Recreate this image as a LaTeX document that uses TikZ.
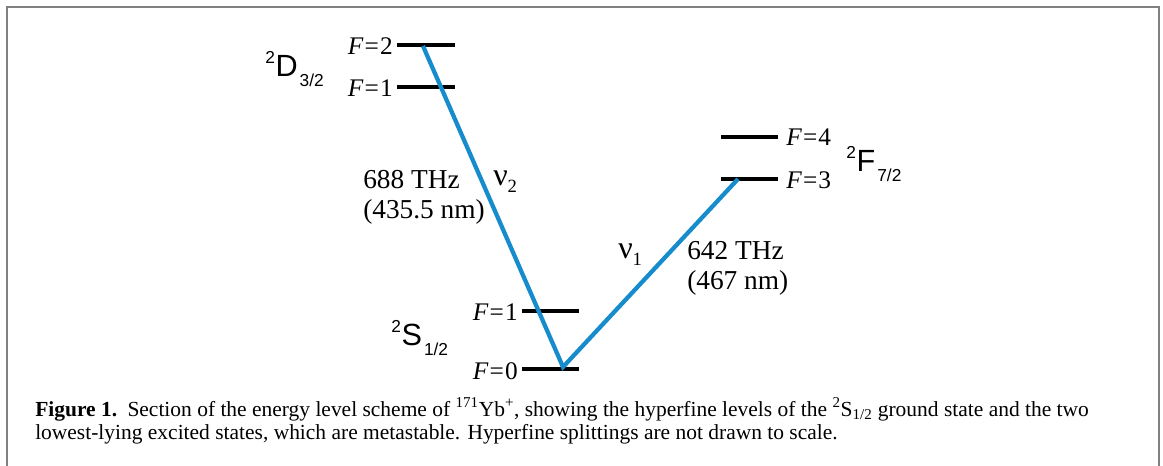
\documentclass[tikz,border=0pt]{standalone}
\usepackage{fontspec}
\setmainfont{Liberation Serif}
\setsansfont{Liberation Sans}
\definecolor{transblue}{RGB}{22,140,205}
\definecolor{framegray}{RGB}{128,128,128}
\newcommand\termsym[3]{\raisebox{0.45em}{\fontsize{13}{13}\selectfont #1}\kern0.5pt#2\kern1.5pt\raisebox{-0.32em}{\fontsize{13}{13}\selectfont #3}}
\newcommand\flev[1]{\textit{F}\kern0.8pt=\kern0.8pt#1}
\begin{document}
\begin{tikzpicture}[x=0.75pt,y=-0.75pt,
  level/.style={line width=3pt, black},
  trans/.style={line width=3.2pt, color=transblue, line join=miter},
  flab/.style={inner sep=0pt, font=\fontsize{19}{21}\selectfont},
  term/.style={inner sep=0pt, anchor=base west, font=\fontsize{23}{25}\sffamily},
  freq/.style={inner sep=0pt, anchor=base west, font=\fontsize{20.5}{23}\selectfont},
  nu/.style={inner sep=0pt, anchor=base west, font=\fontsize{24}{25}\selectfont},
  captext/.style={inner sep=0pt, anchor=base west, font=\fontsize{16.1}{18}\selectfont},
]
\useasboundingbox (0,0) rectangle (1163,466);
% frame
\draw[framegray, line width=1.6pt] (7,466) -- (7,7) -- (1159,7) -- (1159,466);

% level end points
\coordinate (d2l) at (397,45); \coordinate (d2r) at (455,45);
\coordinate (d1l) at (397,87); \coordinate (d1r) at (455,87);
\coordinate (s1l) at (522,311); \coordinate (s1r) at (579,311);
\coordinate (s0l) at (522,369); \coordinate (s0r) at (579,369);
\coordinate (f4l) at (721,137); \coordinate (f4r) at (778,137);
\coordinate (f3l) at (721,179); \coordinate (f3r) at (778,179);

% levels
\draw[level] (d2l) -- (d2r);
\draw[level] (d1l) -- (d1r);
\draw[level] (s1l) -- (s1r);
\draw[level] (s0l) -- (s0r);
\draw[level] (f4l) -- (f4r);
\draw[level] (f3l) -- (f3r);

% transitions
\coordinate (tD) at (423,46);
\coordinate (tS) at (563,367);
\coordinate (tF) at (738,179);
\draw[trans] (tD) -- (tS) -- (tF);

% level labels
\node[flab, anchor=base east] (ld2) at (393,55) {\flev{2}};
\node[flab, anchor=base east] (ld1) at (393,97) {\flev{1}};
\node[flab, anchor=base east] (ls1) at (518,321) {\flev{1}};
\node[flab, anchor=base east] (ls0) at (518,379) {\flev{0}};
\node[flab, anchor=base west] (lf4) at (786,146) {\flev{4}};
\node[flab, anchor=base west] (lf3) at (786,189) {\flev{3}};

% term symbols
\node[term] (termD) at (265,77) {\termsym{2}{D}{3/2}};
\node[term] (termS) at (391,346) {\termsym{2}{S}{1/2}};
\node[term] (termF) at (846,172) {\termsym{2}{F}{7/2}};

% frequencies
\node[freq] (f688) at (363,189) {688 THz};
\node[freq] (w435) at (363,219) {(435.5 nm)};
\node[freq] (f642) at (687,260) {642 THz};
\node[freq] (w467) at (687,290) {(467 nm)};
\node[nu] (nu2) at (493,186) {ν\raisebox{-0.2em}{\fontsize{14}{14}\selectfont 2}};
\node[nu] (nu1) at (618,259) {ν\raisebox{-0.2em}{\fontsize{14}{14}\selectfont 1}};

% caption
\node[captext] (cap1) at (35,416) {\textbf{Figure 1.}\hspace{0.15em} Section of the energy level scheme of \textsuperscript{171}Yb\textsuperscript{+}, showing the hyperfine levels of the \textsuperscript{2}S\textsubscript{1/2} ground state and the two};
\node[captext] (cap2) at (35,439) {lowest-lying excited states, which are metastable. Hyperfine splittings are not drawn to scale.};
\end{tikzpicture}
\end{document}
